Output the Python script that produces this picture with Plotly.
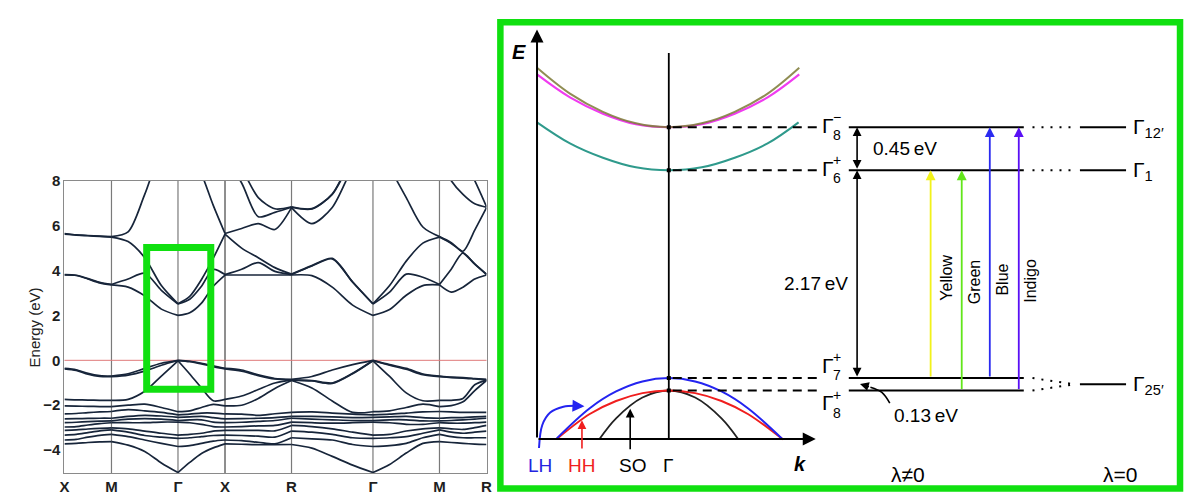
import numpy as np
import plotly.graph_objects as go

FONT = "Liberation Sans, Arial, sans-serif"
BAND_COLOR = "#17253a"
GREEN = "#10e010"

# ---------------- Left panel: DFT band structure ----------------
hs_labels = ["X", "M", "Γ", "X", "R", "Γ", "M", "R"]
seg_lengths = [0.5, 0.7071, 0.5, 0.7071, 0.8660, 0.7071, 0.5]   # |Δk| (2π/a)
n_sub = 4   # energies read at 0, 1/4, 1/2, 3/4 of every segment (+ final R)
y_ticks = [-4, -2, 0, 2, 4, 6, 8]
y_ticktext = ["−4", "−2", "0", "2", "4", "6", "8"]

# conduction-band energies (eV) at each k sample (values above 8 are off-scale)
cb_at_k = [
    [3.80, 3.82, 5.62, 5.65, 9.0, 9.2],    # X
    [3.78, 3.79, 5.58, 5.59, 9.3, 9.5],
    [3.62, 3.64, 5.55, 5.56, 9.5, 9.8],
    [3.45, 3.47, 5.52, 5.53, 9.6, 9.9],
    [3.36, 3.38, 5.49, 5.51, 9.0, 9.5],    # M
    [3.26, 3.62, 5.29, 5.72, 9.2, 9.6],
    [2.87, 3.88, 4.57, 7.39, 9.5, 9.8],
    [2.28, 3.12, 3.33, 9.3, 9.8, 10.0],
    [2.00, 2.51, 2.52, 10.0, 10.2, 10.4],  # Γ
    [2.12, 2.72, 2.85, 9.3, 9.8, 10.2],
    [2.55, 3.30, 3.60, 8.3, 9.5, 10.0],
    [3.30, 4.05, 4.55, 6.90, 9.2, 9.8],
    [3.80, 3.82, 5.62, 5.65, 9.0, 9.2],    # X
    [3.80, 4.06, 5.00, 5.87, 7.90, 8.5],
    [3.80, 4.35, 4.57, 6.09, 6.40, 7.25],
    [3.80, 3.96, 4.13, 5.83, 6.59, 6.75],
    [3.80, 3.82, 3.84, 6.80, 6.82, 6.84],  # R
    [3.77, 4.20, 4.22, 6.09, 6.74, 6.76],
    [3.26, 4.52, 4.54, 6.81, 7.39, 7.41],
    [2.46, 3.48, 3.50, 8.6, 9.0, 9.1],
    [2.00, 2.51, 2.52, 10.0, 10.2, 10.4],  # Γ
    [2.26, 3.04, 3.33, 8.6, 9.5, 10.0],
    [2.90, 3.84, 4.42, 7.25, 9.5, 10.0],
    [3.33, 3.70, 5.22, 5.94, 9.3, 9.8],
    [3.36, 3.38, 5.49, 5.51, 9.0, 9.5],    # M
    [3.04, 4.06, 5.20, 5.24, 8.0, 9.5],
    [3.26, 4.78, 4.80, 4.86, 7.39, 9.0],
    [3.62, 4.28, 4.30, 5.80, 6.97, 8.0],
    [3.80, 3.82, 3.84, 6.80, 6.82, 6.84],  # R
]

# valence-band energies (eV) at each k sample
vb_at_k = [
    [-0.36, -0.38, -1.74, -2.03, -2.39, -2.61, -2.78, -2.97, -3.12, -3.33, -3.55, -3.72],  # X
    [-0.42, -0.45, -1.76, -2.04, -2.37, -2.60, -2.76, -2.95, -3.10, -3.30, -3.52, -3.70],
    [-0.58, -0.62, -1.77, -2.05, -2.33, -2.59, -2.73, -2.88, -3.06, -3.22, -3.42, -3.66],
    [-0.68, -0.72, -1.78, -2.06, -2.30, -2.58, -2.71, -2.82, -3.03, -3.14, -3.34, -3.63],
    [-0.70, -0.73, -1.78, -2.06, -2.28, -2.58, -2.70, -2.78, -3.01, -3.10, -3.30, -3.62],  # M
    [-0.60, -0.66, -1.74, -2.00, -2.20, -2.50, -2.62, -2.78, -3.05, -3.20, -3.40, -3.78],
    [-0.36, -0.48, -1.38, -1.95, -2.25, -2.45, -2.60, -2.78, -3.15, -3.35, -3.55, -4.06],
    [-0.13, -0.22, -0.70, -2.10, -2.32, -2.48, -2.62, -2.75, -3.25, -3.42, -3.70, -4.57],
    [0.00, -0.01, -0.02, -2.29, -2.43, -2.54, -2.68, -2.75, -3.33, -3.48, -3.84, -5.00],   # Γ
    [-0.04, -0.06, -0.61, -2.25, -2.40, -2.52, -2.65, -2.78, -3.30, -3.45, -3.80, -4.55],
    [-0.13, -0.16, -1.23, -2.10, -2.35, -2.50, -2.65, -2.85, -3.25, -3.40, -3.70, -4.15],
    [-0.25, -0.28, -1.80, -1.96, -2.35, -2.55, -2.75, -2.95, -3.15, -3.35, -3.60, -3.90],
    [-0.36, -0.38, -1.74, -2.03, -2.39, -2.61, -2.78, -2.97, -3.12, -3.33, -3.55, -3.72],  # X
    [-0.43, -0.48, -1.59, -2.00, -2.40, -2.60, -2.76, -2.95, -3.12, -3.35, -3.58, -3.74],
    [-0.65, -0.68, -1.30, -1.70, -2.45, -2.58, -2.72, -2.92, -3.12, -3.38, -3.65, -3.76],
    [-0.81, -0.83, -1.01, -1.25, -2.38, -2.55, -2.68, -2.90, -3.14, -3.42, -3.72, -3.76],
    [-0.85, -0.87, -0.88, -0.90, -2.32, -2.50, -2.58, -2.75, -2.90, -3.15, -3.45, -3.75],  # R
    [-0.72, -0.90, -0.92, -1.23, -2.30, -2.50, -2.62, -2.78, -2.95, -3.20, -3.50, -3.91],
    [-0.43, -1.01, -1.03, -1.81, -2.35, -2.52, -2.65, -2.80, -3.05, -3.30, -3.55, -4.28],
    [-0.19, -0.58, -0.60, -2.32, -2.40, -2.55, -2.68, -2.78, -3.20, -3.45, -3.75, -4.67],
    [0.00, -0.01, -0.02, -2.29, -2.43, -2.54, -2.68, -2.75, -3.33, -3.48, -3.84, -5.00],   # Γ
    [-0.19, -0.22, -0.72, -2.25, -2.40, -2.52, -2.65, -2.78, -3.30, -3.45, -3.80, -4.64],
    [-0.36, -0.40, -1.45, -2.10, -2.35, -2.50, -2.65, -2.85, -3.15, -3.40, -3.70, -4.13],
    [-0.61, -0.64, -1.80, -1.95, -2.30, -2.55, -2.70, -2.85, -3.05, -3.25, -3.45, -3.70],
    [-0.70, -0.73, -1.78, -2.06, -2.28, -2.58, -2.70, -2.78, -3.01, -3.10, -3.30, -3.62],  # M
    [-0.75, -0.77, -1.78, -2.02, -2.30, -2.55, -2.68, -2.80, -3.05, -3.20, -3.40, -3.66],
    [-0.77, -0.79, -1.70, -1.85, -2.32, -2.55, -2.65, -2.80, -3.08, -3.25, -3.45, -3.70],
    [-0.81, -0.83, -1.09, -1.35, -2.32, -2.52, -2.62, -2.78, -3.00, -3.20, -3.45, -3.73],
    [-0.85, -0.87, -0.88, -0.90, -2.32, -2.50, -2.58, -2.75, -2.90, -3.15, -3.45, -3.75],  # R
]

# ---------------- Right panel: schematic (energies in eV from Γ8+) ----------------
level_names_sup = ["−", "+", "+", "+"]
level_names_sub = ["8", "6", "7", "8"]
level_E = [2.75, 2.30, 0.13, 0.00]           # Γ8−, Γ6+, Γ7+, Γ8+
gap_labels = ["0.45\u2009eV", "2.17\u2009eV", "0.13\u2009eV"]
lam0_labels = ["Γ<sub>12′</sub>", "Γ<sub>1</sub>", "Γ<sub>25′</sub>"]
lam0_E = [2.75, 2.30, 0.065]

cb_k = [-1.0, -0.75, -0.5, -0.25, 0.0, 0.25, 0.5, 0.75, 0.99]
cb_olive = [3.37, 3.10, 2.91, 2.79, 2.75, 2.79, 2.91, 3.10, 3.37]
cb_magenta = [3.30, 3.06, 2.89, 2.78, 2.75, 2.78, 2.89, 3.06, 3.30]
cb_teal_k = [-1.0, -0.75, -0.5, -0.25, 0.0, 0.25, 0.5, 0.75, 0.985]
cb_teal = [2.80, 2.58, 2.43, 2.33, 2.30, 2.33, 2.43, 2.58, 2.80]

vb_k = [-0.85, -0.6, -0.4, -0.2, 0.0, 0.2, 0.4, 0.6, 0.865]
vb_lh = [-0.50, -0.185, -0.01, 0.095, 0.13, 0.095, -0.01, -0.185, -0.51]
vb_hh = [-0.505, -0.245, -0.109, -0.027, 0.0, -0.027, -0.109, -0.245, -0.51]
so_k = [-0.526, -0.4, -0.2, 0.0, 0.2, 0.4, 0.526]
vb_so = [-0.506, -0.29, -0.073, 0.0, -0.073, -0.29, -0.506]

transitions = ["Yellow", "Green", "Blue", "Indigo"]
trans_from = [0.13, 0.00, 0.13, 0.00]
trans_to = [2.30, 2.30, 2.75, 2.75]
trans_colors = ["#f2f21a", "#62e61a", "#2a2af0", "#5a10f5"]

# ---------------- build figure ----------------
W, H = 1189, 495
fig = go.Figure()

hs_k = np.concatenate([[0.0], np.cumsum(seg_lengths)])
nseg = len(seg_lengths)
k_samples = []
for s in range(nseg):
    k_samples += list(np.linspace(hs_k[s], hs_k[s + 1], n_sub + 1)[:-1])
k_samples.append(hs_k[-1])

cb_bands = list(zip(*cb_at_k))
vb_bands = list(zip(*vb_at_k))
for band in cb_bands + vb_bands:
    xs, ys = [], []
    for s in range(nseg):
        i0 = s * n_sub
        xs += k_samples[i0:i0 + n_sub + 1] + [None]
        ys += list(band[i0:i0 + n_sub + 1]) + [None]
    fig.add_trace(go.Scatter(x=xs, y=ys, mode="lines", xaxis="x", yaxis="y",
                             line=dict(color=BAND_COLOR, width=1.7, shape="spline", smoothing=0.8),
                             hoverinfo="skip", showlegend=False))

# vertical high-symmetry lines & Fermi level
for i, kv in enumerate(hs_k[1:-1]):
    col = "#444444" if hs_labels[i + 1] == "X" else "#7a7a7a"
    fig.add_shape(type="line", xref="x", yref="y domain", x0=kv, x1=kv, y0=0, y1=1,
                  line=dict(color=col, width=1.2), layer="below")
fig.add_shape(type="line", xref="x domain", yref="y", x0=0, x1=1, y0=0, y1=0,
              line=dict(color="#e07a7a", width=1), layer="below")

# green highlight box on left panel
fig.add_shape(type="rect", xref="paper", yref="paper",
              x0=143 / W, x1=207.7 / W, y0=1 - 389.7 / H, y1=1 - 244.5 / H,
              line=dict(color=GREEN, width=7))
# green frame around right panel
fig.add_shape(type="rect", xref="paper", yref="paper",
              x0=500 / W, x1=1186 / W, y0=1 - 491.5 / H, y1=1 - 13.5 / H,
              line=dict(color=GREEN, width=6.5))

fig.add_annotation(xref="paper", yref="paper", x=19 / W, y=1 - 326 / H, text="Energy (eV)",
                   textangle=-90, showarrow=False, font=dict(family=FONT, size=15, color="#222"))

# ---- schematic curves ----
def sc(x, y, color, width=2.0, opacity=1.0):
    fig.add_trace(go.Scatter(x=x, y=y, mode="lines", xaxis="x2", yaxis="y2", opacity=opacity,
                             line=dict(color=color, width=width, shape="spline", smoothing=1.0),
                             hoverinfo="skip", showlegend=False))

sc(cb_k, cb_magenta, "#f03cf0", 2.2)
sc(cb_k, cb_olive, "#7d7a36", 2.0, 0.85)
sc(cb_teal_k, cb_teal, "#2f9a8c", 2.0)
sc(so_k, vb_so, "#222222", 1.8)
sc(vb_k, vb_hh, "#f01e1e", 2.0)
sc(vb_k, vb_lh, "#2424f0", 2.0)

k_axis_E = -0.506
E_top = 3.77
# axes of the schematic
fig.add_annotation(xref="x2", yref="y2", axref="x2", ayref="y2", x=-1.0, y=E_top, ax=-1.0, ay=k_axis_E,
                   text="", showarrow=True, arrowhead=2, arrowsize=1.3, arrowwidth=2, arrowcolor="black")
fig.add_annotation(xref="x2", yref="y2", axref="x2", ayref="y2", x=1.115, y=k_axis_E, ax=-1.0, ay=k_axis_E,
                   text="", showarrow=True, arrowhead=2, arrowsize=1.3, arrowwidth=2, arrowcolor="black")
fig.add_shape(type="line", xref="x2", yref="y2", x0=0, x1=0, y0=k_axis_E, y1=3.525,
              line=dict(color="black", width=1.8))

# dashed projections + levels
for E in level_E:
    fig.add_shape(type="line", xref="x2", yref="y2", x0=0.03, x1=1.128, y0=E, y1=E,
                  line=dict(color="black", width=2, dash="9px,6px"))
    fig.add_shape(type="line", xref="x2", yref="y2", x0=1.366, x1=2.694, y0=E, y1=E,
                  line=dict(color="black", width=2))
fig.add_trace(go.Scatter(x=[0] * 4, y=level_E, mode="markers", xaxis="x2", yaxis="y2",
                         marker=dict(color="black", size=4, symbol="square"), hoverinfo="skip", showlegend=False))

# λ = 0 levels
for E_l, E_r in [(2.75, 2.75), (2.30, 2.30), (0.13, 0.065), (0.0, 0.065)]:
    fig.add_shape(type="line", xref="x2", yref="y2", x0=2.76, x1=3.08, y0=E_l, y1=E_r,
                  line=dict(color="black", width=2, dash="2px,7px"))
for E in lam0_E:
    fig.add_shape(type="line", xref="x2", yref="y2", x0=3.12, x1=3.47, y0=E, y1=E,
                  line=dict(color="black", width=2))
for txt, E in zip(lam0_labels, lam0_E):
    fig.add_annotation(xref="x2", yref="y2", x=3.51, y=E, text=txt, showarrow=False, xanchor="left",
                       yanchor="middle", yshift=-1, font=dict(family=FONT, size=21, color="black"))

# left Γ labels (stacked super/subscripts)
label_yshift = [2, 2, 13, -12]
for sup, sub, E, ys in zip(level_names_sup, level_names_sub, level_E, label_yshift):
    fig.add_annotation(xref="x2", yref="y2", x=1.145, y=E, text="Γ", showarrow=False, xanchor="left",
                       yanchor="middle", yshift=ys, font=dict(family=FONT, size=21, color="black"))
    fig.add_annotation(xref="x2", yref="y2", x=1.145, y=E, text=sup, showarrow=False, xanchor="left",
                       yanchor="bottom", borderpad=0, xshift=12, yshift=ys - 1,
                       font=dict(family=FONT, size=14, color="black"))
    fig.add_annotation(xref="x2", yref="y2", x=1.145, y=E, text=sub, showarrow=False, xanchor="left",
                       yanchor="top", borderpad=0, xshift=12, yshift=ys - 1,
                       font=dict(family=FONT, size=14, color="black"))

# gap arrows
for (e1, e2) in [(level_E[1], level_E[0]), (level_E[2], level_E[1])]:
    fig.add_annotation(xref="x2", yref="y2", axref="x2", ayref="y2", x=1.429, y=e2, ax=1.429, ay=e1,
                       text="", showarrow=True, arrowhead=2, arrowside="end+start", arrowsize=1.1,
                       arrowwidth=1.6, arrowcolor="black")
fig.add_annotation(xref="x2", yref="y2", x=1.789, y=2.526, text=gap_labels[0], showarrow=False,
                   font=dict(family=FONT, size=19, color="black"))
fig.add_annotation(xref="x2", yref="y2", x=1.12, y=1.121, text=gap_labels[1], showarrow=False,
                   font=dict(family=FONT, size=19, color="black"))
fig.add_annotation(xref="x2", yref="y2", x=1.955, y=-0.265, text=gap_labels[2], showarrow=False,
                   font=dict(family=FONT, size=19, color="black"))
# curved pointer for 0.13 eV
fig.add_trace(go.Scatter(x=[1.677, 1.617, 1.53], y=[-0.132, -0.02, 0.035], mode="lines", xaxis="x2", yaxis="y2",
                         line=dict(color="black", width=1.6, shape="spline"), hoverinfo="skip", showlegend=False))
fig.add_annotation(xref="x2", yref="y2", axref="x2", ayref="y2", x=1.451, y=0.068, ax=1.53, ay=0.035,
                   text="", showarrow=True, arrowhead=2, arrowsize=1.1, arrowwidth=1.6, arrowcolor="black")

# colour transitions
trans_k = [1.987, 2.223, 2.436, 2.656]
label_pos = [(2.105, 1.18), (2.316, 1.13), (2.530, 1.16), (2.744, 1.15)]
for name, k0, e1, e2, col, (lx, ly) in zip(transitions, trans_k, trans_from, trans_to, trans_colors, label_pos):
    fig.add_annotation(xref="x2", yref="y2", axref="x2", ayref="y2", x=k0, y=e2, ax=k0, ay=e1,
                       text="", showarrow=True, arrowhead=2, arrowsize=1.1, arrowwidth=1.8, arrowcolor=col)
    fig.add_annotation(xref="x2", yref="y2", x=lx, y=ly, text=name, textangle=-90, showarrow=False,
                       font=dict(family=FONT, size=16, color="black"))

# valence labels and pointers
fig.add_annotation(xref="x2", yref="y2", axref="x2", ayref="y2", x=-0.659, y=-0.31, ax=-0.659, ay=-0.62,
                   text="", showarrow=True, arrowhead=2, arrowsize=1.1, arrowwidth=1.6, arrowcolor="#f01e1e")
fig.add_annotation(xref="x2", yref="y2", axref="x2", ayref="y2", x=-0.293, y=-0.19, ax=-0.293, ay=-0.63,
                   text="", showarrow=True, arrowhead=2, arrowsize=1.1, arrowwidth=1.6, arrowcolor="black")
fig.add_trace(go.Scatter(x=[-0.985, -0.96, -0.90, -0.80, -0.70], y=[-0.60, -0.36, -0.23, -0.17, -0.16],
                         mode="lines", xaxis="x2", yaxis="y2",
                         line=dict(color="#2424f0", width=2, shape="spline"), hoverinfo="skip", showlegend=False))
fig.add_annotation(xref="x2", yref="y2", axref="x2", ayref="y2", x=-0.64, y=-0.165, ax=-0.72, ay=-0.16,
                   text="", showarrow=True, arrowhead=2, arrowsize=1.2, arrowwidth=2, arrowcolor="#2424f0")

for txt, kx, col in [("LH", -0.977, "#2424e0"), ("HH", -0.662, "#f01e1e"), ("SO", -0.278, "black"), ("Γ", -0.008, "black")]:
    fig.add_annotation(xref="x2", yref="y2", x=kx, y=-0.78, text=txt, showarrow=False,
                       font=dict(family=FONT, size=19, color=col))
fig.add_annotation(xref="x2", yref="y2", x=0.992, y=-0.77, text="<b><i>k</i></b>", showarrow=False,
                   font=dict(family=FONT, size=20, color="black"))
fig.add_annotation(xref="x2", yref="y2", x=-1.135, y=3.535, text="<b><i>E</i></b>", showarrow=False,
                   font=dict(family=FONT, size=20, color="black"))
fig.add_annotation(xref="x2", yref="y2", x=1.812, y=-0.876, text="λ≠0", showarrow=False,
                   font=dict(family=FONT, size=21, color="black"))
fig.add_annotation(xref="x2", yref="y2", x=3.421, y=-0.876, text="λ=0", showarrow=False,
                   font=dict(family=FONT, size=21, color="black"))

axis_common = dict(showgrid=False, zeroline=False, showline=True, mirror=True,
                   linecolor="#8a8a8a", linewidth=1, ticks="",
                   tickfont=dict(family=FONT, size=15, color="#1e1e1e"))
fig.update_layout(
    width=W, height=H, margin=dict(l=0, r=0, t=0, b=0),
    paper_bgcolor="white", plot_bgcolor="white", showlegend=False,
    xaxis=dict(domain=[60 / W, 486 / W], range=[0, hs_k[-1]], tickvals=list(hs_k),
               ticktext=["<b>%s</b>" % t for t in hs_labels], anchor="y", **axis_common),
    yaxis=dict(domain=[1 - 476 / H, 1 - 176 / H], range=[-5.04, 8], tickvals=y_ticks,
               ticktext=["<b>%s</b>" % t for t in y_ticktext], anchor="x", **axis_common),
    xaxis2=dict(domain=[503 / W, 1183 / W], range=[-1.2556, 3.8571], visible=False, anchor="y2"),
    yaxis2=dict(domain=[1 - 488 / H, 1 - 17 / H], range=[-0.9882, 3.8101], visible=False, anchor="x2"),
)

fig.write_html("out.html")
